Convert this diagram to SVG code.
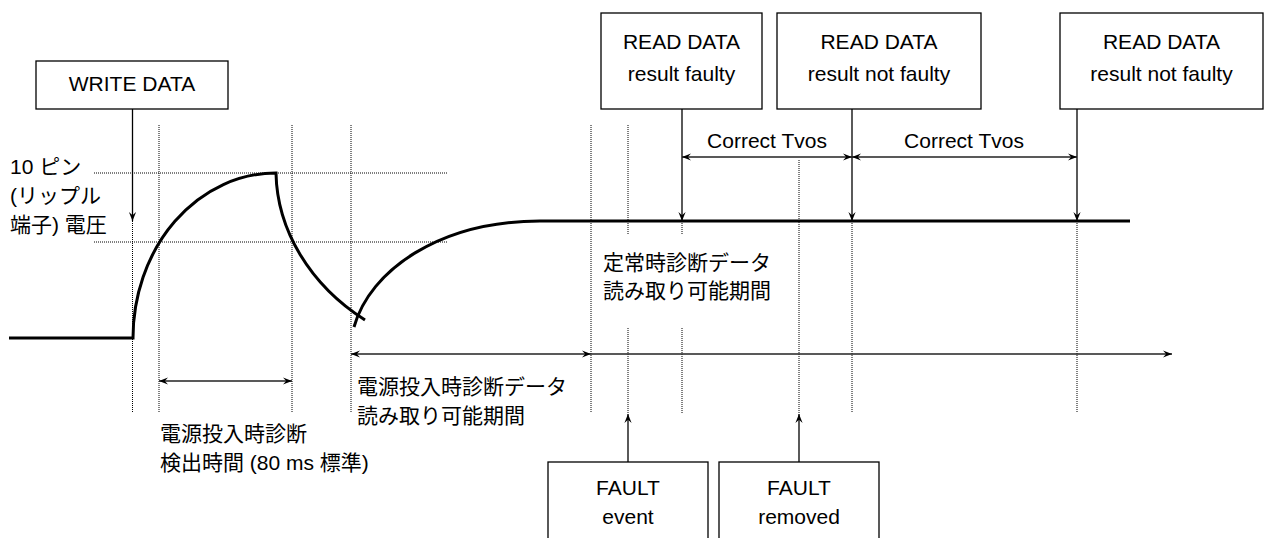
<svg xmlns="http://www.w3.org/2000/svg" width="1268" height="538" viewBox="0 0 1268 538">
  <style>
    .bg { fill: #ffffff; }
    .box { fill: #ffffff; stroke: #000000; stroke-width: 1.3; }
    .txt { font-family: "Liberation Sans", "Noto Sans CJK JP", sans-serif; font-size: 21px; fill: #000000; }
    .mid { text-anchor: middle; }
    .grid { stroke: #000000; stroke-width: 1; stroke-dasharray: 1 1; fill: none; }
    .wave { stroke: #000000; stroke-width: 3; fill: none; }
    .arrow { stroke: #000000; stroke-width: 1.3; fill: none; marker-end: url(#head); }
    .span { stroke: #222222; stroke-width: 1.3; fill: none; marker-start: url(#head); marker-end: url(#head); }
    .ray { stroke: #222222; stroke-width: 1.3; fill: none; marker-end: url(#head); }
  </style>
  <defs>
    <marker id="head" viewBox="0 0 10 10" refX="10" refY="5" markerWidth="9" markerHeight="9" markerUnits="userSpaceOnUse" orient="auto-start-reverse">
      <path d="M0,1 L10,5 L0,9 L3.5,5 z" fill="#000000"/>
    </marker>
  </defs>

  <rect class="bg" x="0" y="0" width="1268" height="538"/>

  <!-- timing grid -->
  <g id="grid">
    <line class="grid" x1="94" y1="173" x2="448" y2="173"/>
    <line class="grid" x1="94" y1="242" x2="448" y2="242"/>
    <line class="grid" x1="132.5" y1="125" x2="132.5" y2="413"/>
    <line class="grid" x1="159" y1="125" x2="159" y2="413"/>
    <line class="grid" x1="292" y1="125" x2="292" y2="413"/>
    <line class="grid" x1="351" y1="125" x2="351" y2="413"/>
    <line class="grid" x1="591" y1="125" x2="591" y2="413"/>
    <line class="grid" x1="628" y1="125" x2="628" y2="235"/>
    <line class="grid" x1="628" y1="328" x2="628" y2="413"/>
    <line class="grid" x1="682" y1="221" x2="682" y2="235"/>
    <line class="grid" x1="682" y1="328" x2="682" y2="413"/>
    <line class="grid" x1="799" y1="160" x2="799" y2="413"/>
    <line class="grid" x1="852" y1="221" x2="852" y2="413"/>
    <line class="grid" x1="1077" y1="221" x2="1077" y2="413"/>
  </g>

  <!-- pin 10 voltage waveform -->
  <g id="waveform">
    <path class="wave" d="M9,338 H133 A143,165 0 0 1 276,173 C277,230 310,285 365,320"/>
    <path class="wave" d="M354,327 C370,270 440,221 540,221 H1130"/>
  </g>

  <!-- labels -->
  <g id="labels">
    <text class="txt" x="10" y="174">10 ピン</text>
    <text class="txt" x="10" y="203">(リップル</text>
    <text class="txt" x="10" y="232">端子) 電圧</text>
    <text class="txt" x="603" y="270">定常時診断データ</text>
    <text class="txt" x="603" y="298">読み取り可能期間</text>
    <text class="txt" x="357" y="394">電源投入時診断データ</text>
    <text class="txt" x="357" y="423">読み取り可能期間</text>
    <text class="txt" x="160" y="441">電源投入時診断</text>
    <text class="txt" x="160" y="470">検出時間 (80 ms 標準)</text>
    <text class="txt mid" x="767" y="148">Correct Tvos</text>
    <text class="txt mid" x="964" y="148">Correct Tvos</text>
  </g>

  <!-- event boxes -->
  <g id="write-data">
    <rect class="box" x="36" y="61" width="192" height="48"/>
    <text class="txt mid" x="132" y="91">WRITE DATA</text>
  </g>
  <g id="read-data-1">
    <rect class="box" x="601" y="13" width="161" height="96"/>
    <text class="txt mid" x="681.5" y="49">READ DATA</text>
    <text class="txt mid" x="681.5" y="81">result faulty</text>
  </g>
  <g id="read-data-2">
    <rect class="box" x="777" y="13" width="204" height="96"/>
    <text class="txt mid" x="879" y="49">READ DATA</text>
    <text class="txt mid" x="879" y="81">result not faulty</text>
  </g>
  <g id="read-data-3">
    <rect class="box" x="1060" y="13" width="203" height="96"/>
    <text class="txt mid" x="1161.5" y="49">READ DATA</text>
    <text class="txt mid" x="1161.5" y="81">result not faulty</text>
  </g>
  <g id="fault-event">
    <rect class="box" x="548" y="462" width="160" height="90"/>
    <text class="txt mid" x="628" y="495">FAULT</text>
    <text class="txt mid" x="628" y="524">event</text>
  </g>
  <g id="fault-removed">
    <rect class="box" x="719" y="462" width="160" height="90"/>
    <text class="txt mid" x="799" y="495">FAULT</text>
    <text class="txt mid" x="799" y="524">removed</text>
  </g>

  <!-- connectors -->
  <g id="connectors">
    <line class="arrow" x1="132.5" y1="109" x2="132.5" y2="221"/>
    <line class="arrow" x1="682" y1="109" x2="682" y2="221"/>
    <line class="arrow" x1="852" y1="109" x2="852" y2="221"/>
    <line class="arrow" x1="1077" y1="109" x2="1077" y2="221"/>
    <line class="arrow" x1="628" y1="462" x2="628" y2="414"/>
    <line class="arrow" x1="799" y1="462" x2="799" y2="414"/>
    <line class="span" x1="682" y1="157" x2="852" y2="157"/>
    <line class="span" x1="852" y1="157" x2="1077" y2="157"/>
    <line class="span" x1="159" y1="381" x2="292" y2="381"/>
    <line class="span" x1="351" y1="354" x2="591" y2="354"/>
    <line class="ray" x1="591" y1="354" x2="1172" y2="354"/>
  </g>
</svg>
